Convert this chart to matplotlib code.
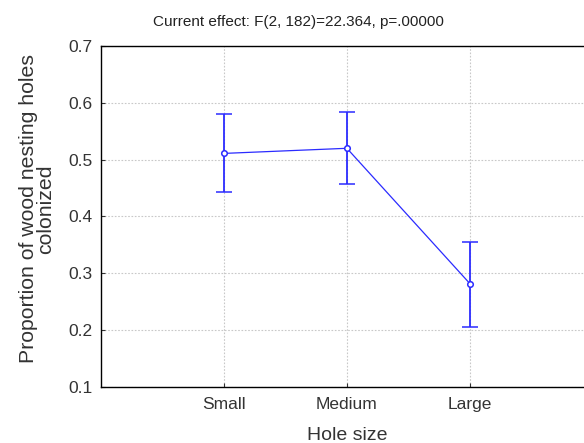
import matplotlib.pyplot as plt

plt.rcParams['font.family'] = ['Liberation Sans', 'DejaVu Sans']

# Mean proportion colonized per hole size, with upper/lower interval limits
categories = ["Small", "Medium", "Large"]
means = [0.511, 0.520, 0.282]
upper = [0.580, 0.583, 0.355]
lower = [0.443, 0.457, 0.205]

err_low = [m - lo for m, lo in zip(means, lower)]
err_high = [hi - m for m, hi in zip(means, upper)]
xpos = list(range(len(categories)))

fig = plt.figure(figsize=(5.84, 4.43), dpi=100)
ax = fig.add_axes([0.173, 0.1264, 0.842, 0.7698])

ax.errorbar(xpos, means, yerr=[err_low, err_high], color="#2b2bff",
            linewidth=0.9, elinewidth=1.3, capsize=6, capthick=1.3,
            marker="o", markersize=4, markerfacecolor="white",
            markeredgecolor="#2b2bff", markeredgewidth=1.1, zorder=3)

ax.set_xlim(-1, 3)
ax.set_ylim(0.1, 0.7)
ax.set_xticks(xpos)
ax.set_xticklabels(categories)
ax.set_yticks([0.1, 0.2, 0.3, 0.4, 0.5, 0.6, 0.7])
ax.set_yticklabels(["0.1", "0.2", "0.3", "0.4", "0.5", "0.6", "0.7"])
ax.tick_params(axis="both", direction="in", length=3, colors="#333333",
               labelsize=12.5, labelcolor="#333333", pad=6)
ax.tick_params(axis="x", pad=7)

ax.grid(True, color="#c8c8c8", linestyle=(0, (1.5, 1.5)), linewidth=0.8)
ax.set_axisbelow(True)
for side in ax.spines.values():
    side.set_color("black")
    side.set_linewidth(1.0)

ax.set_xlabel("Hole size", fontsize=14, color="#333333", labelpad=11)
ax.set_ylabel("Proportion of wood nesting holes\ncolonized", fontsize=15.3,
              color="#333333", linespacing=0.85)
ax.yaxis.set_label_coords(-0.094, 0.522)
fig.text(0.511, 0.951, "Current effect: F(2, 182)=22.364, p=.00000",
         ha="center", va="center", fontsize=11, color="#222222")

fig.savefig("out.png", dpi=100)
